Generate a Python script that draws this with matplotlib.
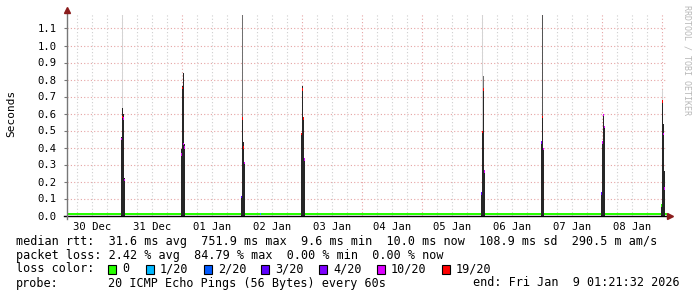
import matplotlib.pyplot as plt
from matplotlib.patches import Rectangle

# x axis: days since 30 Dec 00:00, window ends 9 Jan ~02:00
x_start = 0.0833
x_end = 10.0833
day_labels = ['30 Dec', '31 Dec', '01 Jan', '02 Jan', '03 Jan',
              '04 Jan', '05 Jan', '06 Jan', '07 Jan', '08 Jan']
y_ticks = [0.0, 0.1, 0.2, 0.3, 0.4, 0.5, 0.6, 0.7, 0.8, 0.9, 1.0, 1.1]

baseline_median = 0.0096

loss_labels = ['0', '1/20', '2/20', '3/20', '4/20', '10/20', '19/20']
loss_colors = ['#26ff00', '#00b8ff', '#0059ff', '#5e00ff', '#7e00ff', '#dd00ff', '#ff0000']

# one entry per 24-minute column of the nightly spikes
col_day = [1, 1, 1, 1,
           2, 2, 2, 2,
           3, 3, 3, 3,
           4, 4, 4, 4,
           7, 7, 7, 7,
           8, 8, 8,
           9, 9, 9, 9,
           10, 10, 10, 10]
col_min = [-24, 0, 24, 48,
           -24, 0, 24, 48,
           -24, 0, 24, 48,
           -24, 0, 24, 48,
           -24, 0, 24, 48,
           -24, 0, 24,
           -24, 0, 24, 48,
           -24, 0, 24, 48]
col_top = [0.46, 0.63, 0.60, 0.22,
           0.39, 0.76, 0.84, 0.42,
           0.11, 0.57, 0.43, 0.31,
           0.48, 0.76, 0.58, 0.33,
           0.13, 0.49, 0.74, 0.26,
           0.435, 0.58, 0.39,
           0.13, 0.435, 0.59, 0.52,
           0.06, 0.67, 0.54, 0.26]
col_med = [0.45, 0.58, 0.57, 0.21,
           0.36, 0.75, 0.42, 0.40,
           0.11, 0.57, 0.40, 0.31,
           0.48, 0.74, 0.57, 0.33,
           0.13, 0.49, 0.74, 0.26,
           0.43, 0.58, 0.39,
           0.13, 0.43, 0.59, 0.52,
           0.06, 0.67, 0.48, 0.16]
col_loss = [5, 6, 5, 5,
            5, 6, 5, 5,
            3, 6, 6, 5,
            6, 6, 6, 5,
            3, 6, 6, 5,
            4, 6, 5,
            3, 5, 5, 5,
            0, 6, 5, 5]

# thin max-rtt lines sticking out above the smoke
out_day = [1, 3, 7, 7, 8, 10]
out_min = [0, 0, 0, 24, 0, 0]
out_top = [1.18, 1.18, 1.18, 0.82, 1.18, 0.74]
out_col = ['#d4d4d4', '#707070', '#d4d4d4', '#707070', '#555555', '#d4d4d4']

# short loss blip on the baseline
blip_day = [3.3]
blip_loss = [1]

W, H = 697, 297
fig = plt.figure(figsize=(W / 100, H / 100), dpi=100)
fig.patch.set_facecolor('white')
ax_bottom = 215.5
ax_top = 13
ax = fig.add_axes([67 / W, (H - ax_bottom) / H, 600 / W, (ax_bottom - ax_top) / H])
ymax = (ax_bottom - ax_top) / 170
ax.set_xlim(x_start, x_end)
ax.set_ylim(0, ymax)
for s in ax.spines.values():
    s.set_visible(False)

mono = 'DejaVu Sans Mono'
px = 1 / 60  # one pixel column in days
py = 1 / 170  # one pixel row in seconds

# grid
for y in y_ticks[1:]:
    ax.axhline(y, color='#e6a4a4', lw=0.8, ls=(0, (1, 2)), zorder=0)
q = 0.25
while q < x_end:
    if q > x_start:
        if abs(q - round(q)) < 1e-6:
            ax.axvline(q, color='#e6a4a4', lw=0.8, ls=(0, (1, 2)), zorder=0)
        else:
            ax.axvline(q, color='#cfcfcf', lw=0.8, ls=(0, (1, 2)), zorder=0)
    q += 0.25

# baseline median (green), broken at the spikes
spike_days = sorted(set(col_day))
edges = [x_start]
for d in spike_days:
    starts = [d + m / 1440 for dd, m in zip(col_day, col_min) if dd == d]
    edges.append(min(starts) - 0.3 * px)
    edges.append(max(starts) + 1.3 * px)
edges.append(x_end)
for i in range(0, len(edges), 2):
    ax.bar(edges[i], 2 * py, bottom=baseline_median - py, width=edges[i + 1] - edges[i],
           align='edge', color=loss_colors[0], lw=0, antialiased=False, zorder=3)
for d, l in zip(blip_day, blip_loss):
    ax.bar(d, 2 * py, bottom=baseline_median - py, width=px, align='edge',
           color=loss_colors[l], lw=0, antialiased=False, zorder=4)

# outlier lines
for d, m, t, c in zip(out_day, out_min, out_top, out_col):
    x = d + m / 1440
    ax.bar(x, t, width=px, align='edge', color=c, lw=0, antialiased=False, zorder=2)

# smoke columns and median marks
for d, m, t, med, l in zip(col_day, col_min, col_top, col_med, col_loss):
    x = d + m / 1440
    ax.bar(x, t, width=px, align='edge', color='#262626', lw=0, antialiased=False, zorder=3)
    ax.bar(x, 2.5 * py, bottom=med - 1.25 * py, width=px, align='edge',
           color=loss_colors[l], lw=0, antialiased=False, zorder=5)

# axes lines and arrows
ax.plot([x_start - 3 * px, x_end + 3 * px], [0, 0], color='black', lw=1, clip_on=False, zorder=6)
ax.plot([x_start, x_start], [-3 * py, ymax + 3 * py], color='#777777', lw=1,
        clip_on=False, zorder=6)
ax.plot([x_end + 3.5 * px], [0], marker='>', ms=4.5, color='#8b1c1c', clip_on=False, zorder=7)
ax.plot([x_start], [ymax + 3 * py], marker='^', ms=4.5, color='#8b1c1c', clip_on=False, zorder=7)

# ticks
ax.set_yticks(y_ticks)
ax.set_yticklabels(['%.1f' % v for v in y_ticks], fontfamily=mono, fontsize=7.6)
ax.tick_params(axis='y', length=2.5, width=0.8, color='#777777', pad=5)
ax.set_xticks([i + 0.5 for i in range(len(day_labels))])
ax.set_xticklabels(day_labels, fontfamily=mono, fontsize=7.6)
ax.tick_params(axis='x', length=0, pad=5)

fig.text(11 / W, 1 - 113 / H, 'Seconds', rotation=90, ha='center', va='center',
         fontfamily=mono, fontsize=8)
fig.text(687 / W, 1 - 5 / H, 'RRDTOOL / TOBI OETIKER', rotation=270, ha='center', va='top',
         fontfamily=mono, fontsize=6, color='#b8b8b8')

# legend block
fs = 8.5
def line(x, y, s, ha='left'):
    fig.text(x / W, 1 - y / H, s, ha=ha, va='center', fontfamily=mono, fontsize=fs)

line(16, 241, 'median rtt:  31.6 ms avg  751.9 ms max  9.6 ms min  10.0 ms now  108.9 ms sd  290.5 m am/s')
line(16, 255, 'packet loss: 2.42 % avg  84.79 % max  0.00 % min  0.00 % now')
line(16, 269, 'loss color:')
box_x = [108, 146, 204, 261, 319, 377, 442]
for bx, lab, c in zip(box_x, loss_labels, loss_colors):
    fig.patches.append(Rectangle((bx / W, 1 - 273.5 / H), 8 / W, 9 / H, transform=fig.transFigure,
                                 facecolor=c, edgecolor='black', lw=0.8))
    line(bx + 14, 269, lab)
line(16, 283, 'probe:')
line(108, 283, '20 ICMP Echo Pings (56 Bytes) every 60s')
line(680, 283, 'end: Fri Jan  9 01:21:32 2026', ha='right')

fig.savefig('out.png', dpi=100, facecolor='white')
